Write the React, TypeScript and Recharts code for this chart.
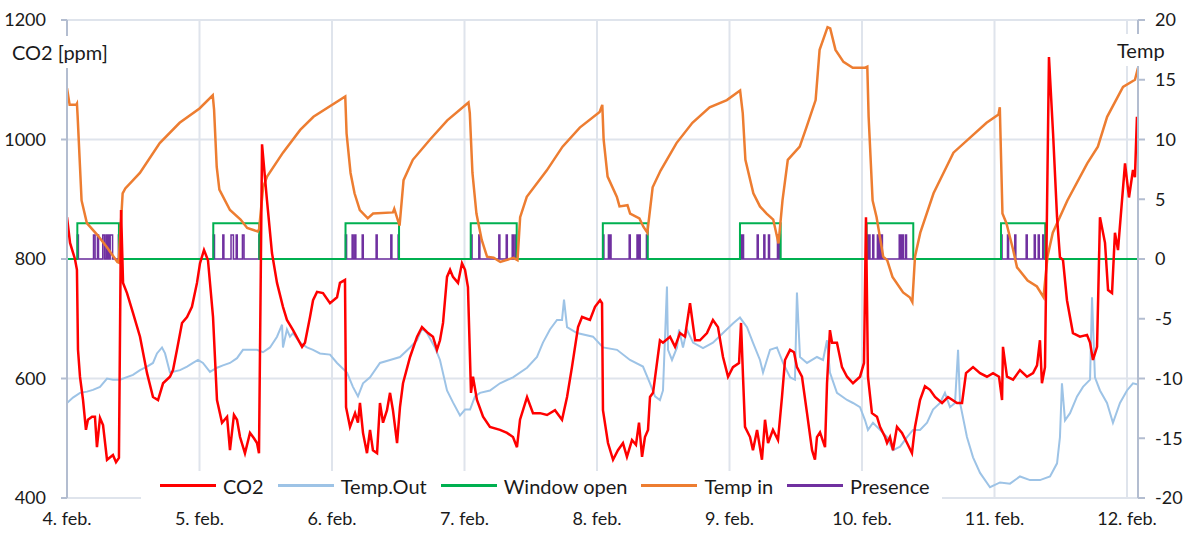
import React from 'react';
import { LineChart, Line, XAxis, YAxis, CartesianGrid } from 'recharts';

const FONT = 'Lato, "Open Sans", sans-serif';

const dayTicks = [4, 5, 6, 7, 8, 9, 10, 11, 12];
const co2Ticks = [400, 600, 800, 1000, 1200];
const tempTicks = [-20, -15, -10, -5, 0, 5, 10, 15, 20];

// [day of February, ppm]
const co2Values: [number, number][] = [
  [4.0, 870], [4.023, 827], [4.06, 800], [4.075, 782], [4.083, 648], [4.098, 603], [4.121, 564],
  [4.143, 514], [4.158, 531], [4.189, 536], [4.211, 536], [4.226, 485], [4.249, 534], [4.272, 522],
  [4.302, 464], [4.347, 472], [4.37, 460], [4.392, 467], [4.408, 882], [4.423, 760], [4.453, 743],
  [4.498, 710], [4.551, 670], [4.604, 609], [4.649, 569], [4.687, 564], [4.725, 592], [4.777, 603],
  [4.8, 614], [4.83, 648], [4.868, 693], [4.906, 703], [4.943, 720], [4.981, 760], [5.004, 793],
  [5.034, 815], [5.064, 798], [5.102, 703], [5.132, 564], [5.17, 526], [5.208, 536], [5.23, 480],
  [5.26, 539], [5.283, 531], [5.306, 502], [5.343, 475], [5.381, 509], [5.411, 500], [5.434, 492],
  [5.449, 475], [5.472, 992], [5.509, 899], [5.547, 810], [5.585, 760], [5.63, 720], [5.66, 698],
  [5.706, 681], [5.774, 653], [5.796, 660], [5.834, 703], [5.857, 731], [5.887, 745], [5.932, 743],
  [5.985, 726], [6.038, 736], [6.06, 760], [6.098, 765], [6.106, 552], [6.136, 519], [6.174, 542],
  [6.196, 526], [6.211, 559], [6.234, 509], [6.264, 475], [6.287, 514], [6.309, 480], [6.34, 475],
  [6.362, 559], [6.385, 526], [6.415, 547], [6.438, 576], [6.46, 547], [6.491, 492], [6.513, 552],
  [6.536, 592], [6.589, 636], [6.642, 670], [6.679, 686], [6.725, 676], [6.762, 670], [6.792, 648],
  [6.815, 664], [6.838, 693], [6.868, 770], [6.891, 782], [6.913, 770], [6.951, 760], [6.981, 793],
  [7.004, 782], [7.026, 753], [7.049, 576], [7.064, 603], [7.094, 564], [7.14, 536], [7.192, 519],
  [7.268, 514], [7.321, 509], [7.366, 502], [7.396, 485], [7.419, 531], [7.472, 569], [7.517, 542],
  [7.57, 542], [7.623, 539], [7.683, 547], [7.736, 531], [7.774, 569], [7.811, 619], [7.857, 686],
  [7.887, 703], [7.947, 698], [7.985, 720], [8.023, 731], [8.038, 726], [8.045, 547], [8.083, 492],
  [8.121, 464], [8.158, 480], [8.196, 492], [8.226, 469], [8.264, 497], [8.294, 489], [8.317, 526],
  [8.34, 469], [8.362, 502], [8.385, 514], [8.4, 569], [8.423, 576], [8.475, 664], [8.498, 660],
  [8.551, 670], [8.589, 653], [8.626, 676], [8.664, 670], [8.702, 726], [8.74, 664], [8.777, 664],
  [8.83, 676], [8.875, 698], [8.913, 686], [8.951, 636], [8.989, 603], [9.026, 619], [9.072, 626],
  [9.087, 693], [9.102, 603], [9.117, 519], [9.155, 502], [9.177, 480], [9.208, 514], [9.245, 464],
  [9.268, 531], [9.291, 492], [9.328, 514], [9.366, 497], [9.396, 569], [9.419, 631], [9.457, 648],
  [9.487, 644], [9.509, 619], [9.547, 603], [9.585, 542], [9.623, 480], [9.645, 464], [9.66, 502],
  [9.683, 510], [9.721, 485], [9.736, 592], [9.758, 681], [9.774, 660], [9.811, 660], [9.849, 619],
  [9.887, 603], [9.932, 592], [9.985, 603], [10.015, 626], [10.03, 870], [10.045, 603], [10.075, 542],
  [10.113, 536], [10.136, 519], [10.174, 502], [10.189, 492], [10.211, 502], [10.234, 480],
  [10.264, 519], [10.302, 509], [10.34, 492], [10.377, 475], [10.4, 519], [10.438, 564], [10.475, 587],
  [10.513, 581], [10.551, 569], [10.604, 559], [10.649, 569], [10.717, 559], [10.755, 559],
  [10.785, 609], [10.838, 619], [10.891, 609], [10.943, 603], [10.989, 609], [11.034, 603],
  [11.057, 564], [11.064, 653], [11.094, 603], [11.14, 598], [11.192, 614], [11.245, 603],
  [11.291, 609], [11.321, 622], [11.343, 664], [11.358, 592], [11.381, 619], [11.411, 1138],
  [11.442, 1010], [11.472, 870], [11.494, 803], [11.517, 798], [11.547, 731], [11.592, 676],
  [11.645, 670], [11.698, 673], [11.721, 660], [11.743, 631], [11.774, 653], [11.796, 870],
  [11.834, 827], [11.857, 748], [11.887, 743], [11.909, 844], [11.932, 815], [11.985, 960],
  [12.015, 903], [12.045, 949], [12.06, 937], [12.075, 1038], [12.083, 992],
];

// [day, °C]
const tempOutValues: [number, number][] = [
  [4.0, -12.05], [4.045, -11.6], [4.098, -11.2], [4.151, -11.1], [4.196, -10.95], [4.249, -10.7],
  [4.302, -10.0], [4.347, -10.1], [4.4, -10.1], [4.498, -9.7], [4.551, -9.3], [4.604, -9.0],
  [4.649, -8.7], [4.679, -7.9], [4.717, -7.4], [4.74, -7.9], [4.777, -9.5], [4.853, -9.3],
  [4.906, -9.0], [4.951, -8.7], [4.989, -8.45], [5.026, -8.7], [5.079, -9.45], [5.132, -9.1],
  [5.177, -8.9], [5.23, -8.7], [5.283, -8.3], [5.328, -7.6], [5.434, -7.6], [5.479, -7.8],
  [5.532, -7.4], [5.585, -6.5], [5.623, -5.5], [5.63, -7.4], [5.66, -5.9], [5.683, -6.5],
  [5.706, -6.2], [5.758, -7.0], [5.811, -7.4], [5.857, -7.6], [5.909, -7.9], [5.985, -8.0],
  [6.038, -8.7], [6.113, -9.5], [6.158, -10.7], [6.196, -11.5], [6.234, -10.4], [6.287, -9.9],
  [6.362, -8.7], [6.438, -8.45], [6.513, -8.2], [6.589, -7.4], [6.642, -6.8], [6.679, -5.8],
  [6.717, -6.2], [6.777, -7.4], [6.815, -8.45], [6.868, -11.0], [6.913, -12.0], [6.966, -13.1],
  [7.004, -12.6], [7.042, -12.6], [7.079, -11.5], [7.117, -11.2], [7.192, -11.0], [7.268, -10.4],
  [7.366, -9.9], [7.472, -9.1], [7.547, -8.2], [7.592, -7.0], [7.645, -5.9], [7.698, -5.1],
  [7.736, -5.1], [7.751, -3.4], [7.774, -5.7], [7.849, -6.2], [7.97, -6.5], [8.045, -7.4],
  [8.151, -7.6], [8.249, -8.45], [8.347, -9.0], [8.4, -10.4], [8.438, -11.5], [8.475, -11.8],
  [8.498, -11.0], [8.528, -2.3], [8.536, -7.6], [8.566, -8.45], [8.604, -7.4], [8.619, -5.9],
  [8.649, -7.4], [8.679, -5.9], [8.725, -7.0], [8.8, -7.45], [8.875, -7.0], [8.951, -6.2],
  [9.026, -5.4], [9.079, -4.9], [9.132, -5.7], [9.177, -7.0], [9.23, -8.45], [9.253, -9.5],
  [9.306, -7.6], [9.358, -7.4], [9.404, -8.7], [9.457, -9.9], [9.494, -10.1], [9.509, -2.8],
  [9.532, -8.2], [9.585, -8.7], [9.66, -8.2], [9.706, -8.45], [9.736, -6.8], [9.758, -9.5],
  [9.811, -11.2], [9.887, -11.8], [9.932, -12.05], [9.985, -12.4], [10.023, -13.5], [10.045, -14.3],
  [10.083, -13.7], [10.136, -14.3], [10.189, -14.9], [10.234, -16.0], [10.287, -15.7], [10.34, -14.9],
  [10.385, -14.3], [10.438, -14.3], [10.491, -13.7], [10.536, -12.6], [10.589, -12.05],
  [10.626, -11.2], [10.664, -12.4], [10.702, -12.05], [10.725, -7.6], [10.74, -12.05],
  [10.792, -14.9], [10.838, -16.6], [10.891, -17.9], [10.966, -19.1], [11.042, -18.7],
  [11.117, -18.8], [11.192, -18.2], [11.268, -18.5], [11.343, -18.5], [11.419, -18.2],
  [11.472, -17.1], [11.494, -14.9], [11.509, -10.4], [11.532, -13.5], [11.57, -12.9],
  [11.623, -11.5], [11.668, -10.7], [11.721, -10.1], [11.736, -3.2], [11.758, -9.9], [11.796, -11.0],
  [11.849, -12.05], [11.894, -13.7], [11.947, -12.05], [12.0, -11.0], [12.045, -10.4], [12.083, -10.5],
];

// [day, °C]
const tempInValues: [number, number][] = [
  [4.0, 14.3], [4.02, 12.9], [4.07, 12.9], [4.075, 13.0], [4.08, 12.0], [4.11, 4.9], [4.15, 3.0],
  [4.23, 2.0], [4.3, 1.0], [4.38, -0.25], [4.39, -0.3], [4.42, 5.5], [4.44, 5.9], [4.55, 7.2],
  [4.7, 9.7], [4.85, 11.4], [5.0, 12.6], [5.1, 13.7], [5.11, 12.5], [5.13, 7.7], [5.15, 5.8],
  [5.23, 4.1], [5.31, 3.3], [5.36, 2.6], [5.44, 2.3], [5.45, 2.5], [5.48, 6.0], [5.51, 6.9],
  [5.63, 8.9], [5.76, 10.8], [5.86, 11.9], [6.1, 13.6], [6.11, 10.5], [6.14, 7.2], [6.17, 5.5],
  [6.21, 4.1], [6.27, 3.4], [6.31, 3.8], [6.46, 3.9], [6.47, 4.2], [6.51, 2.8], [6.54, 6.6],
  [6.61, 8.3], [6.74, 10.0], [6.87, 11.6], [7.03, 13.1], [7.04, 12.2], [7.06, 7.2], [7.09, 3.8],
  [7.13, 1.6], [7.17, 0.2], [7.22, 0.1], [7.27, -0.25], [7.37, 0.1], [7.4, -0.1], [7.42, 3.5],
  [7.47, 5.2], [7.62, 7.4], [7.74, 9.4], [7.87, 11.0], [8.02, 12.3], [8.04, 12.9], [8.05, 10.0],
  [8.08, 6.9], [8.15, 5.2], [8.17, 4.4], [8.23, 4.5], [8.25, 3.8], [8.32, 3.4], [8.35, 2.7],
  [8.38, 2.2], [8.42, 6.0], [8.48, 7.4], [8.6, 9.7], [8.72, 11.4], [8.85, 12.7], [8.98, 13.3],
  [9.08, 14.1], [9.1, 12.2], [9.12, 8.3], [9.18, 5.5], [9.23, 4.4], [9.28, 3.8], [9.33, 3.3],
  [9.37, 1.3], [9.4, 4.9], [9.44, 8.3], [9.53, 9.4], [9.58, 11.0], [9.65, 13.3], [9.68, 17.5],
  [9.74, 19.4], [9.76, 19.3], [9.8, 17.5], [9.86, 16.5], [9.93, 16.0], [10.02, 16.0], [10.04, 16.1],
  [10.05, 11.9], [10.08, 4.9], [10.11, 3.5], [10.16, 0.2], [10.19, -0.1], [10.23, -1.5], [10.31, -2.8],
  [10.36, -3.2], [10.38, -3.6], [10.4, 0.2], [10.44, 2.2], [10.54, 5.5], [10.69, 8.9], [10.82, 10.2],
  [10.94, 11.4], [11.03, 12.1], [11.04, 12.7], [11.06, 3.8], [11.09, 3.0], [11.14, 0.8], [11.17, -0.7],
  [11.25, -1.8], [11.32, -2.3], [11.37, -3.2], [11.4, 0.2], [11.44, 2.2], [11.55, 4.9], [11.7, 8.0],
  [11.78, 9.4], [11.85, 11.9], [11.97, 14.4], [12.06, 15.0], [12.083, 16.0],
];

// [open from, closed at] in days
const windowOpenPeriods: [number, number][] = [
  [4.078, 4.392], [5.104, 5.451], [6.102, 6.506], [7.047, 7.394],
  [8.044, 8.383], [9.079, 9.386], [10.035, 10.387], [11.049, 11.383],
];
const windowOpenLevel = 3;

// [from, to] in days
const presencePeriods: [number, number][] = [
  [4.078, 4.086], [4.2, 4.212], [4.23, 4.238], [4.27, 4.283], [4.295, 4.303], [4.31, 4.318],
  [4.326, 4.344], [4.388, 4.396],
  [5.105, 5.113], [5.176, 5.184], [5.238, 5.256], [5.277, 5.285], [5.324, 5.336], [5.449, 5.459],
  [6.102, 6.11], [6.152, 6.16], [6.172, 6.18], [6.228, 6.236], [6.333, 6.341], [6.444, 6.452], [6.499, 6.507],
  [7.049, 7.057], [7.108, 7.116], [7.259, 7.267], [7.315, 7.323], [7.36, 7.368], [7.38, 7.388],
  [8.044, 8.052], [8.086, 8.092], [8.098, 8.106], [8.243, 8.251], [8.302, 8.31], [8.318, 8.326], [8.373, 8.381],
  [9.079, 9.087], [9.098, 9.106], [9.209, 9.217], [9.259, 9.267], [9.294, 9.302], [9.362, 9.37], [9.376, 9.384],
  [10.038, 10.046], [10.052, 10.06], [10.081, 10.089], [10.116, 10.124], [10.128, 10.136], [10.146, 10.154],
  [10.281, 10.289], [10.294, 10.302], [10.304, 10.312], [10.328, 10.336],
  [11.049, 11.057], [11.098, 11.106], [11.153, 11.161], [11.239, 11.247], [11.3, 11.308], [11.33, 11.338],
  [11.364, 11.372],
];
const presenceLevel = 2;

const X_START = 4;
const X_END = 12.083;

const toPoints = (arr: [number, number][]) => arr.map(([t, v]) => ({ t, v }));
const stepPoints = (periods: [number, number][], level: number) => {
  const pts: { t: number; v: number }[] = [{ t: X_START, v: 0 }];
  periods.forEach(([s, e]) => {
    pts.push({ t: s, v: 0 }, { t: s, v: level }, { t: e, v: level }, { t: e, v: 0 });
  });
  pts.push({ t: X_END, v: 0 });
  return pts;
};

const co2Data = toPoints(co2Values);
const tempOutData = toPoints(tempOutValues);
const tempInData = toPoints(tempInValues);
const windowData = stepPoints(windowOpenPeriods, windowOpenLevel);
const presenceData = stepPoints(presencePeriods, presenceLevel);

const legendItems = [
  { name: 'CO2', color: '#ff0000' },
  { name: 'Temp.Out', color: '#9dc3e6' },
  { name: 'Window open', color: '#00b050' },
  { name: 'Temp in', color: '#ed7d31' },
  { name: 'Presence', color: '#7030a0' },
];

const AXIS_COLOR = '#b3bdd0';
const GRID_COLOR = '#dfe4ec';
const TEXT_COLOR = '#1a1a1a';

export default function App() {
  return (
    <div style={{ position: 'absolute', left: 0, top: 0, width: 1190, height: 534, background: '#fff', fontFamily: FONT }}>
      <LineChart width={1190} height={534} margin={{ top: 20, right: 0, bottom: 0, left: 0 }}>
        <CartesianGrid yAxisId="co2" stroke={GRID_COLOR} strokeWidth={2} />
        <XAxis
          dataKey="t"
          type="number"
          domain={[X_START, X_END]}
          ticks={dayTicks}
          interval={0}
          allowDataOverflow
          tickFormatter={(d: number) => `${d}. feb.`}
          axisLine={false}
          tickLine={false}
          tickSize={0}
          tickMargin={14}
          height={36}
          tick={{ fontSize: 18, fill: TEXT_COLOR, fontFamily: FONT }}
        />
        <YAxis
          yAxisId="co2"
          orientation="left"
          domain={[400, 1200]}
          ticks={co2Ticks}
          interval={0}
          width={67}
          axisLine={{ stroke: AXIS_COLOR, strokeWidth: 2 }}
          tickLine={{ stroke: AXIS_COLOR, strokeWidth: 2 }}
          tickSize={6}
          tickMargin={15}
          tick={{ fontSize: 18, fill: TEXT_COLOR, fontFamily: FONT }}
        />
        <YAxis
          yAxisId="temp"
          orientation="right"
          domain={[-20, 20]}
          ticks={tempTicks}
          interval={0}
          width={52}
          axisLine={{ stroke: AXIS_COLOR, strokeWidth: 2 }}
          tickLine={{ stroke: AXIS_COLOR, strokeWidth: 2 }}
          tickSize={7}
          tickMargin={10}
          tick={{ fontSize: 18, fill: TEXT_COLOR, fontFamily: FONT }}
        />
        <Line yAxisId="temp" data={presenceData} dataKey="v" type="linear" stroke="#7030a0" strokeWidth={1.5} dot={false} isAnimationActive={false} />
        <Line yAxisId="temp" data={windowData} dataKey="v" type="linear" stroke="#00b050" strokeWidth={2} dot={false} isAnimationActive={false} />
        <Line yAxisId="temp" data={tempOutData} dataKey="v" type="linear" stroke="#9dc3e6" strokeWidth={2} dot={false} isAnimationActive={false} />
        <Line yAxisId="temp" data={tempInData} dataKey="v" type="linear" stroke="#ed7d31" strokeWidth={2.5} dot={false} isAnimationActive={false} />
        <Line yAxisId="co2" data={co2Data} dataKey="v" type="linear" stroke="#ff0000" strokeWidth={2.5} dot={false} isAnimationActive={false} />
      </LineChart>

      <div style={{ position: 'absolute', left: 8, top: 36, height: 32, padding: '0 4px', background: '#fff', fontSize: 20, color: TEXT_COLOR, lineHeight: '32px', whiteSpace: 'nowrap' }}>
        CO2 [ppm]
      </div>
      <div style={{ position: 'absolute', left: 1113, top: 34, height: 32, padding: '0 4px', background: '#fff', fontSize: 20, color: TEXT_COLOR, lineHeight: '32px', whiteSpace: 'nowrap' }}>
        Temp
      </div>

      <div style={{ position: 'absolute', left: 141, top: 471, width: 801, height: 29, background: '#fff', display: 'flex', alignItems: 'center', paddingLeft: 19, boxSizing: 'border-box' }}>
        {legendItems.map((it) => (
          <div key={it.name} style={{ display: 'flex', alignItems: 'center', marginRight: 14 }}>
            <div style={{ width: 56, height: 2.5, background: it.color }} />
            <span style={{ marginLeft: 7, fontSize: 20, color: TEXT_COLOR, whiteSpace: 'nowrap' }}>{it.name}</span>
          </div>
        ))}
      </div>
    </div>
  );
}
